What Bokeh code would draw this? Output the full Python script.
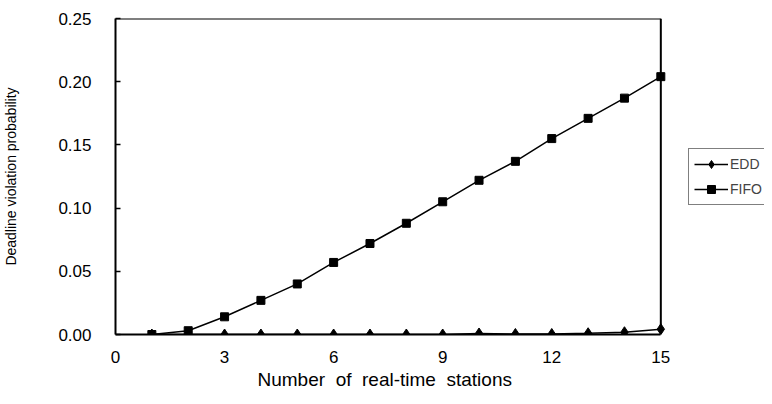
from bokeh.plotting import figure
from bokeh.models import Range1d, FixedTicker, PrintfTickFormatter, Legend, LegendItem, Title
from bokeh.embed import file_html
from bokeh.resources import INLINE

stations = [1, 2, 3, 4, 5, 6, 7, 8, 9, 10, 11, 12, 13, 14, 15]
edd = [0.0, 0.0, 0.0, 0.0, 0.0, 0.0, 0.0, 0.0, 0.0, 0.0008, 0.0004, 0.0004, 0.001, 0.0018, 0.0042]
fifo = [0.0, 0.003, 0.014, 0.027, 0.040, 0.057, 0.072, 0.088, 0.105, 0.122, 0.137, 0.155, 0.171, 0.187, 0.204]
x_ticks = [0, 3, 6, 9, 12, 15]
y_ticks = [0.0, 0.05, 0.10, 0.15, 0.20, 0.25]

FONT = "Liberation Sans"
NB = "\u00a0"

W, H = 764, 396
LEFT, TOP, BOTTOM = 113, 18, 62
PLOT_W = 547                      # visible plotting box width in px
FRAME_W = W - LEFT                # frame extends to the right edge to host the legend
x_lo, x_hi = x_ticks[0], x_ticks[-1]
x_end = x_lo + (x_hi - x_lo) * FRAME_W / PLOT_W

p = figure(width=W, height=H, output_backend="svg", toolbar_location=None,
           x_range=Range1d(x_lo, x_end), y_range=Range1d(y_ticks[0], y_ticks[-1]),
           min_border_left=LEFT, min_border_right=0, min_border_top=TOP, min_border_bottom=BOTTOM)
p.grid.grid_line_color = None
p.outline_line_color = None
p.background_fill_color = "white"
p.border_fill_color = "white"

# top and right edges of the plotting box
p.segment(x0=[x_lo, x_hi], y0=[y_ticks[-1], y_ticks[0]], x1=[x_hi, x_hi], y1=[y_ticks[-1], y_ticks[-1]],
          line_color="black", line_width=2)

l1 = p.line(stations, edd, line_color="black", line_width=1.5)
m1 = p.scatter(stations, edd, marker="diamond", size=11, color="black")
l2 = p.line(stations, fifo, line_color="black", line_width=1.5)
m2 = p.scatter(stations, fifo, marker="square", size=8, color="black")

p.xaxis.ticker = FixedTicker(ticks=x_ticks)
p.yaxis.ticker = FixedTicker(ticks=y_ticks)
p.yaxis.formatter = PrintfTickFormatter(format="%.2f")
p.xaxis.bounds = (x_lo, x_hi)
for ax in (p.xaxis[0], p.yaxis[0]):
    ax.axis_line_color = "black"
    ax.axis_line_width = 2
    ax.minor_tick_line_color = None
    ax.major_label_text_font = FONT
    ax.major_label_text_font_size = "17px"
    ax.major_label_text_color = "black"
    ax.axis_label_text_font = FONT
    ax.axis_label_text_font_style = "normal"
    ax.axis_label_text_color = "black"
p.xaxis.major_tick_line_color = None
p.xaxis.major_tick_in = 0
p.xaxis.major_tick_out = 0
p.xaxis.major_label_standoff = 16
p.yaxis.major_tick_in = 5
p.yaxis.major_tick_out = 0
p.yaxis.major_tick_line_width = 1.5
p.yaxis.major_label_standoff = 24
p.yaxis.axis_label = "Deadline violation probability"
p.yaxis.axis_label_text_font_size = "14px"
p.yaxis.axis_label_standoff = 36

xlabel = Title(text="Number" + " " + NB + "of" + " " + NB + "real-time" + " " + NB + "stations",
               align="left", offset=142, standoff=2,
               text_font=FONT, text_font_size="19px", text_font_style="normal", text_color="black")
p.add_layout(xlabel, "below")

legend = Legend(items=[LegendItem(label="EDD", renderers=[l1, m1]),
                       LegendItem(label="FIFO", renderers=[l2, m2])],
                location=(PLOT_W + 26, 129))
legend.label_text_font = FONT
legend.label_text_font_size = "14px"
legend.border_line_color = "black"
legend.border_line_width = 1.5
legend.glyph_width = 34
legend.glyph_height = 20
legend.label_height = 20
legend.label_width = 20
legend.spacing = 5
legend.padding = 5
legend.margin = 0
legend.label_standoff = 2
p.add_layout(legend, "center")

open("out.html", "w").write(file_html(p, INLINE))
